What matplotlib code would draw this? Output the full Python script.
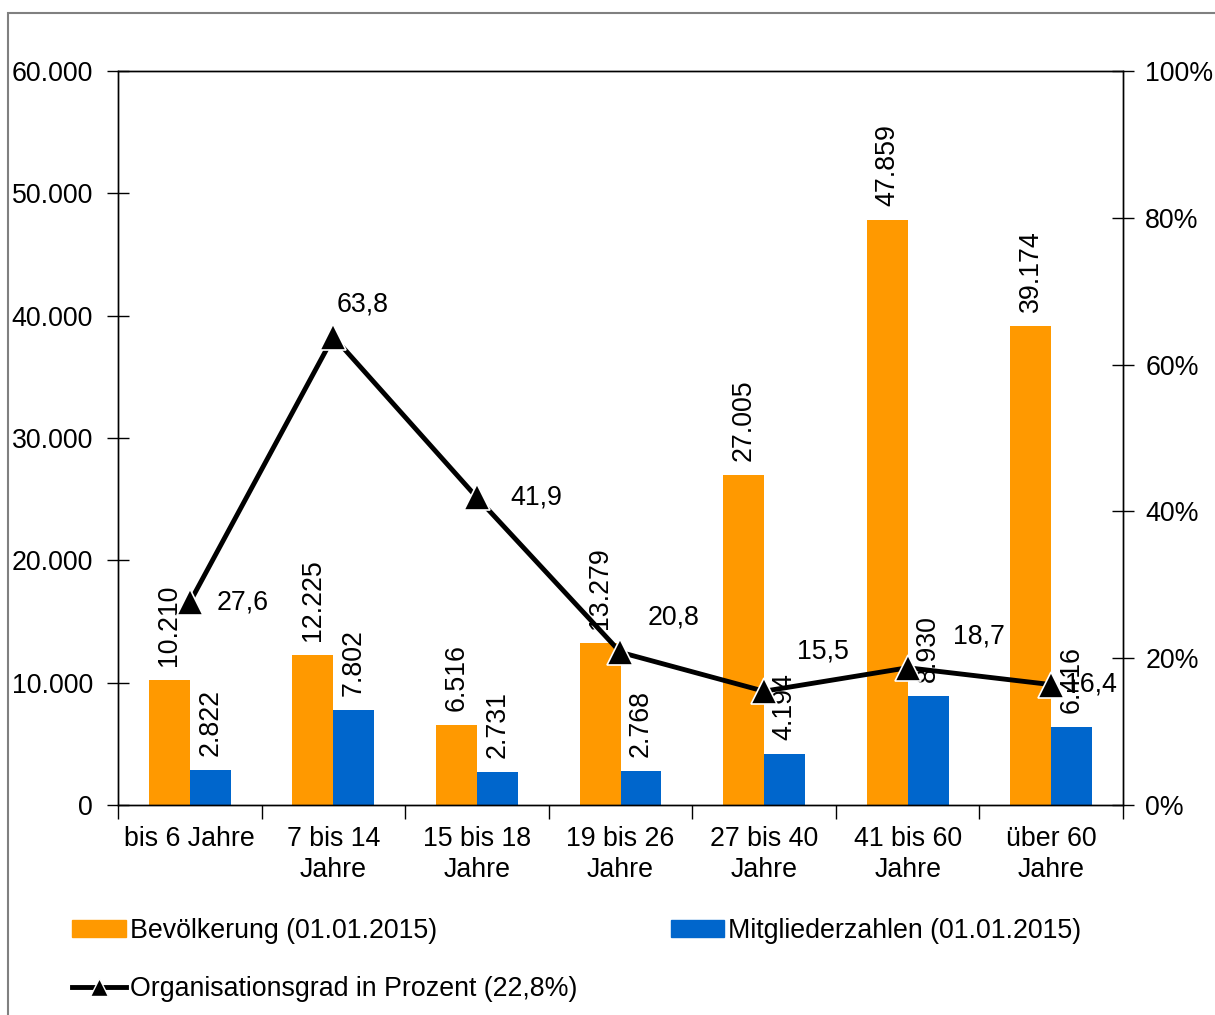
import numpy as np
import matplotlib.pyplot as plt
from matplotlib.patches import Rectangle
from matplotlib.lines import Line2D

plt.rcParams['font.family'] = ['Liberation Sans', 'DejaVu Sans']

# data
categories = ['bis 6 Jahre', '7 bis 14\nJahre', '15 bis 18\nJahre', '19 bis 26\nJahre',
              '27 bis 40\nJahre', '41 bis 60\nJahre', 'über 60\nJahre']
bevoelkerung = [10210, 12225, 6516, 13279, 27005, 47859, 39174]
mitglieder = [2822, 7802, 2731, 2768, 4194, 8930, 6416]
orga_grad = [27.6, 63.8, 41.9, 20.8, 15.5, 18.7, 16.4]

# pixel offsets of the percentage labels (left edge of text vs marker)
grad_offsets = [(27, 0), (3, 32), (33, 0), (27, 35), (33, 40), (45, 31), (14, 0)]

ORANGE = '#FF9900'
BLUE = '#0066CC'
FS = 19.3


def de_int(v):
    return f"{v:,}".replace(",", ".")


fig = plt.figure(figsize=(12.15, 10.15), dpi=100)
ax = fig.add_axes([118/1215, 1-805/1015, (1123-118)/1215, (805-71)/1015])
ax2 = ax.twinx()

x = np.arange(len(categories))
w = 0.285
b1 = ax.bar(x - w/2, bevoelkerung, w, color=ORANGE, zorder=2)
b2 = ax.bar(x + w/2, mitglieder, w, color=BLUE, zorder=2)

for rect, v in zip(list(b1) + list(b2), bevoelkerung + mitglieder):
    ax.annotate(de_int(v), (rect.get_x() + rect.get_width()/2, rect.get_height()),
                xytext=(0, 14), textcoords='offset pixels', rotation=90,
                ha='center', va='bottom', fontsize=FS)

ax2.plot(x, orga_grad, color='black', lw=3.5, marker='^', markersize=19,
         markerfacecolor='black', markeredgecolor='white', markeredgewidth=1.2, zorder=5)
for xi, g, off in zip(x, orga_grad, grad_offsets):
    ax2.annotate(f"{g:.1f}".replace('.', ','), (xi, g), xytext=off,
                 textcoords='offset pixels', ha='left', va='center', fontsize=FS, zorder=6)

ax.set_xlim(-0.5, len(categories) - 0.5)
ax.set_ylim(0, 60000)
ax.set_yticks(np.arange(0, 60001, 10000))
ax.set_yticklabels([de_int(v) for v in range(0, 60001, 10000)], fontsize=FS)
ax2.set_ylim(0, 100)
ax2.set_yticks(np.arange(0, 101, 20))
ax2.set_yticklabels([f"{v}%" for v in range(0, 101, 20)], fontsize=FS)

ax.set_xticks(x)
ax.set_xticklabels(categories, fontsize=FS, linespacing=1.28)
ax.set_xticks(np.arange(-0.5, len(categories), 1), minor=True)
ax.tick_params(axis='x', which='major', length=0, pad=15)
ax.tick_params(axis='x', which='minor', length=10, direction='out', width=1)
ax.tick_params(axis='y', direction='inout', length=16, width=1, pad=10)
ax2.tick_params(axis='y', direction='inout', length=16, width=1, pad=8)

for a in (ax, ax2):
    for s in a.spines.values():
        s.set_linewidth(1)
        s.set_color('black')

# legend
h_bev = Rectangle((0, 0), 1, 1, color=ORANGE)
h_mit = Rectangle((0, 0), 1, 1, color=BLUE)
h_org = Line2D([], [], color='black', lw=3.5, marker='^', markersize=13,
               markerfacecolor='black', markeredgecolor='white')
fig.legend([h_bev, h_org, h_mit],
           ['Bevölkerung (01.01.2015)', 'Organisationsgrad in Prozent (22,8%)',
            'Mitgliederzahlen (01.01.2015)'],
           ncol=2, loc='upper left', bbox_to_anchor=(72/1215, 1-918/1015),
           frameon=False, fontsize=FS, handlelength=2.0, handleheight=0.6,
           handletextpad=0.15, columnspacing=3.5, labelspacing=1.2,
           borderaxespad=0, borderpad=0)

# outer frame
fig.patches.append(Rectangle((8/1215, -0.02), 1.1, 1-13/1015+0.02,
                             transform=fig.transFigure, fill=False,
                             edgecolor='#808080', lw=1.5))

fig.savefig('out.png', dpi=100)
